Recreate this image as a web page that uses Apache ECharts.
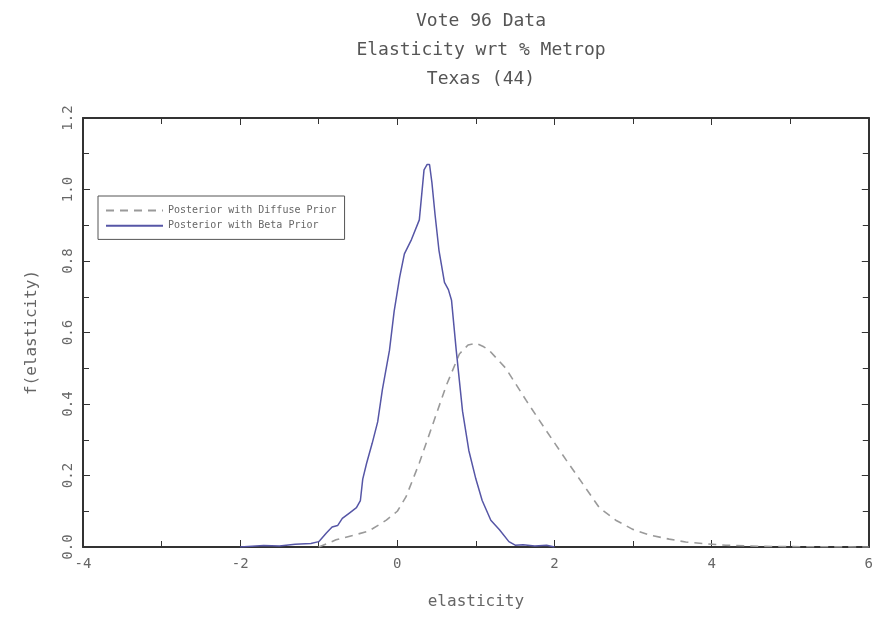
<!DOCTYPE html>
<html>
<head>
<meta charset="utf-8">
<script src="https://cdn.jsdelivr.net/npm/echarts@6/dist/echarts.min.js"></script>
<style>
  html, body { margin: 0; padding: 0; background: #fff; }
  #main { width: 876px; height: 618px; }
</style>
</head>
<body>
<div id="main"></div>
<script>
// posterior with beta prior (solid)
const betaX = [-2.0, -1.7, -1.5, -1.3, -1.1, -1.0, -0.9, -0.83, -0.76, -0.70, -0.61, -0.52, -0.47, -0.44,
  -0.39, -0.32, -0.25, -0.19, -0.10, -0.04, 0.03, 0.09, 0.18, 0.28, 0.34, 0.38, 0.41, 0.44, 0.48, 0.53,
  0.60, 0.65, 0.69, 0.75, 0.83, 0.91, 1.0, 1.08, 1.19, 1.30, 1.42, 1.50, 1.6, 1.75, 1.9, 2.0]
const betaY = [0, 0.004, 0.003, 0.008, 0.01, 0.015, 0.04, 0.056, 0.06, 0.08, 0.095, 0.11, 0.13, 0.19,
  0.235, 0.29, 0.35, 0.44, 0.55, 0.66, 0.755, 0.82, 0.86, 0.915, 1.055, 1.07, 1.07, 1.02, 0.93, 0.83,
  0.74, 0.72, 0.69, 0.55, 0.38, 0.27, 0.19, 0.13, 0.075, 0.048, 0.015, 0.005, 0.006, 0.003, 0.005, 0]

// posterior with diffuse prior (dashed)
const diffuseX = [-1.0, -0.78, -0.52, -0.36, -0.14, 0.0, 0.11, 0.28, 0.44, 0.62, 0.79, 0.9, 1.0, 1.1,
  1.17, 1.38, 1.64, 1.89, 2.15, 2.35, 2.57, 2.78, 2.99, 3.2, 3.46, 3.67, 3.93, 4.18, 4.6, 5.0, 6.0]
const diffuseY = [0, 0.02, 0.035, 0.045, 0.075, 0.1, 0.14, 0.235, 0.336, 0.45, 0.54, 0.565, 0.57, 0.56,
  0.55, 0.50, 0.41, 0.327, 0.243, 0.18, 0.11, 0.075, 0.05, 0.034, 0.022, 0.014, 0.009, 0.005, 0.002, 0.001, 0]

const TITLE_LINES = ['Vote 96 Data', 'Elasticity wrt % Metrop', 'Texas (44)']
const NAME_DIFFUSE = 'Posterior with Diffuse Prior'
const NAME_BETA = 'Posterior with Beta Prior'

const FONT = '"DejaVu Sans Mono", monospace'
const AXIS_COLOR = '#333'
const TEXT_COLOR = '#666'

function frameAxis(extra) {
  return Object.assign({
    type: 'value',
    axisLine: { show: true, onZero: false, lineStyle: { color: AXIS_COLOR, width: 2 } },
    axisTick: { show: true, inside: true, length: 7, lineStyle: { color: AXIS_COLOR, width: 1 } },
    minorTick: { show: true, splitNumber: 2, length: 6, lineStyle: { color: AXIS_COLOR, width: 1 } },
    splitLine: { show: false },
    minorSplitLine: { show: false },
  }, extra)
}

const chart = echarts.init(document.getElementById('main'), null, { renderer: 'canvas' })

chart.setOption({
  backgroundColor: '#fff',
  animation: false,
  title: {
    text: TITLE_LINES.join('\n'),
    left: 476, top: 2,
    textAlign: 'center',
    textStyle: { fontFamily: FONT, fontSize: 18, fontWeight: 'normal', color: '#555', lineHeight: 29 },
  },
  grid: { left: 83, right: 6, top: 118, bottom: 71 },
  legend: {
    orient: 'vertical',
    left: 98, top: 196,
    padding: [9, 8, 8, 7],
    itemWidth: 57, itemHeight: 14, itemGap: 4,
    borderColor: '#555', borderWidth: 1,
    itemStyle: { color: 'transparent', borderWidth: 0, opacity: 0 },
    textStyle: { fontFamily: FONT, fontSize: 10, color: '#666' },
    data: [NAME_DIFFUSE, NAME_BETA],
  },
  xAxis: [
    frameAxis({
      position: 'bottom', min: -4, max: 6, interval: 2,
      name: 'elasticity', nameLocation: 'middle', nameGap: 47,
      nameTextStyle: { fontFamily: FONT, fontSize: 16, color: TEXT_COLOR },
      axisLabel: { fontFamily: FONT, fontSize: 14, color: TEXT_COLOR, margin: 10 },
    }),
    frameAxis({ position: 'top', min: -4, max: 6, interval: 2, axisLabel: { show: false } }),
  ],
  yAxis: [
    frameAxis({
      position: 'left', min: 0, max: 1.2, interval: 0.2,
      name: 'f(elasticity)', nameLocation: 'middle', nameGap: 43, nameRotate: 90,
      nameTextStyle: { fontFamily: FONT, fontSize: 16, color: TEXT_COLOR },
      axisLabel: {
        fontFamily: FONT, fontSize: 14, color: TEXT_COLOR, margin: 8, rotate: 90,
        formatter: v => v.toFixed(1),
      },
    }),
    frameAxis({ position: 'right', min: 0, max: 1.2, interval: 0.2, axisLabel: { show: false } }),
  ],
  series: [
    {
      name: NAME_DIFFUSE, type: 'line',
      xAxisIndex: 0, yAxisIndex: 0,
      data: diffuseX.map((x, i) => [x, diffuseY[i]]),
      symbol: 'none',
      lineStyle: { color: '#9a9a9a', width: 1.6, type: [8, 6] },
      itemStyle: { color: '#9a9a9a' },
    },
    {
      name: NAME_BETA, type: 'line',
      xAxisIndex: 0, yAxisIndex: 0,
      data: betaX.map((x, i) => [x, betaY[i]]),
      symbol: 'none',
      lineStyle: { color: '#5656a6', width: 1.5 },
      itemStyle: { color: '#5656a6' },
    },
  ],
})
</script>
</body>
</html>
